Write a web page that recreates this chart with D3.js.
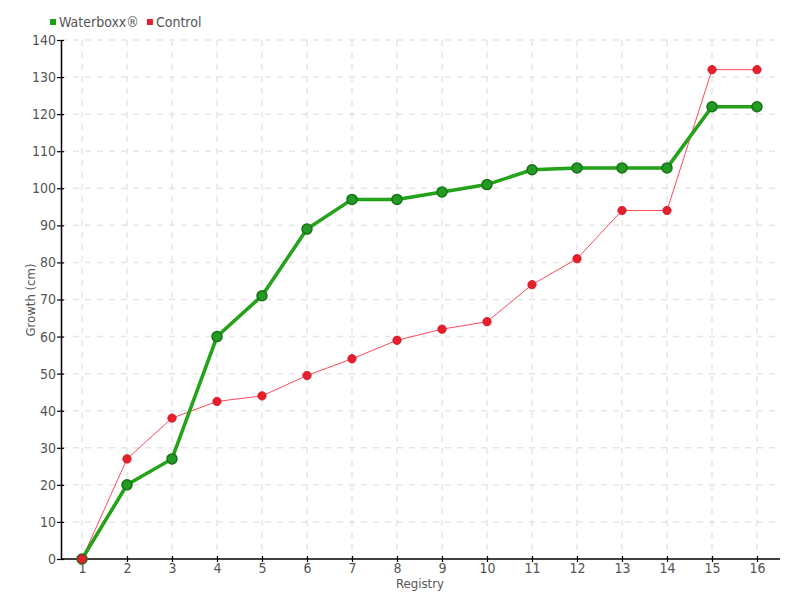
<!DOCTYPE html>
<html><head><meta charset="utf-8">
<script src="https://cdn.jsdelivr.net/npm/d3@7"></script>
<style>
body{margin:0;background:#fff;}
text{font-family:"DejaVu Sans",sans-serif;font-stretch:condensed;}
</style></head>
<body><svg id="c" width="800" height="600"></svg>
<script>
const registry = [1,2,3,4,5,6,7,8,9,10,11,12,13,14,15,16];
const waterboxx = [0,20,27,60,71,89,97,97,99,101,105,105.5,105.5,105.5,122,122];
const control = [0,27,38,42.5,44,49.5,54,59,62,64,74,81,94,94,132,132];
const yTicks = [0,10,20,30,40,50,60,70,80,90,100,110,120,130,140];
const seriesNames = ["Waterboxx®","Control"];

const svg = d3.select("#c");
const x = d3.scaleLinear().domain([0.5,16.5]).range([59.5,779.5]);
const y = d3.scaleLinear().domain([0,140]).range([559,40]);

// grid
const g = svg.append("g");
g.selectAll(".hg").data(yTicks.slice(1)).enter().append("line")
  .attr("x1",61).attr("x2",780).attr("y1",d=>y(d)).attr("y2",d=>y(d))
  .attr("stroke","#e6e6e6").attr("stroke-width",1.5).attr("stroke-dasharray","6,6");
g.selectAll(".vg").data(registry).enter().append("line")
  .attr("x1",d=>x(d)).attr("x2",d=>x(d)).attr("y1",y(140)).attr("y2",y(0))
  .attr("stroke","#e6e6e6").attr("stroke-width",1.5).attr("stroke-dasharray","6,6");

// axes
const xAxis = svg.append("g").attr("transform",`translate(0,${y(0)})`)
  .call(d3.axisBottom(x).tickValues(registry).tickFormat(d3.format("d")).tickSizeInner(-4).tickSizeOuter(0));
const yAxis = svg.append("g").attr("transform",`translate(61,0)`)
  .call(d3.axisLeft(y).tickValues(yTicks).tickSizeInner(4).tickSizeOuter(0));
[xAxis,yAxis].forEach(a=>{
  a.select(".domain").attr("stroke","#000").attr("stroke-width",1.5);
  a.selectAll(".tick line").attr("stroke","#000").attr("stroke-width",1.2);
  a.selectAll(".tick text").attr("fill","#555").attr("font-size",14);
});
xAxis.select(".domain").attr("d","M61,0H780");
xAxis.selectAll(".tick text").attr("dy","0.75em").attr("y",3);
yAxis.selectAll(".tick text").attr("x",-5);
yAxis.selectAll(".tick line").attr("x1",3).attr("x2",-4);
xAxis.selectAll(".tick line").attr("y1",-3).attr("y2",3);

// labels
svg.append("text").attr("x",420).attr("y",588).attr("text-anchor","middle")
  .attr("fill","#555").attr("font-size",13).text("Registry");
svg.append("text").attr("transform","translate(35,300) rotate(-90)").attr("text-anchor","middle")
  .attr("fill","#555").attr("font-size",13).text("Growth (cm)");

// lines
const line = arr => d3.line().x((d,i)=>x(registry[i])).y(d=>y(d))(arr);
svg.append("path").attr("d",line(control)).attr("fill","none").attr("stroke","#ff4a5a").attr("stroke-width",1);
svg.append("path").attr("d",line(waterboxx)).attr("fill","none").attr("stroke","#1e9e14").attr("stroke-width",3.5);
svg.append("path").attr("d",line(waterboxx)).attr("fill","none").attr("stroke","#28a61c").attr("stroke-width",1.5);

svg.selectAll(".wp").data(waterboxx).enter().append("circle")
  .attr("cx",(d,i)=>x(registry[i])).attr("cy",d=>y(d)).attr("r",5)
  .attr("fill","#239a23").attr("stroke","#177317").attr("stroke-width",1.5);
svg.selectAll(".cp").data(control).enter().append("circle")
  .attr("cx",(d,i)=>x(registry[i])).attr("cy",d=>y(d)).attr("r",4.2)
  .attr("fill","#e5202c").attr("stroke","#d01824").attr("stroke-width",0.8);

// legend
const colors = ["#1e9e14","#e5202c"];
let lx = 50;
seriesNames.forEach((n,i)=>{
  svg.append("rect").attr("x",lx).attr("y",19).attr("width",6).attr("height",6).attr("fill",colors[i]);
  const t = svg.append("text").attr("x",lx+9).attr("y",27).attr("fill","#555").attr("font-size",14).text(n);
  lx += 9 + t.node().getComputedTextLength() + 8;
});
</script></body></html>
